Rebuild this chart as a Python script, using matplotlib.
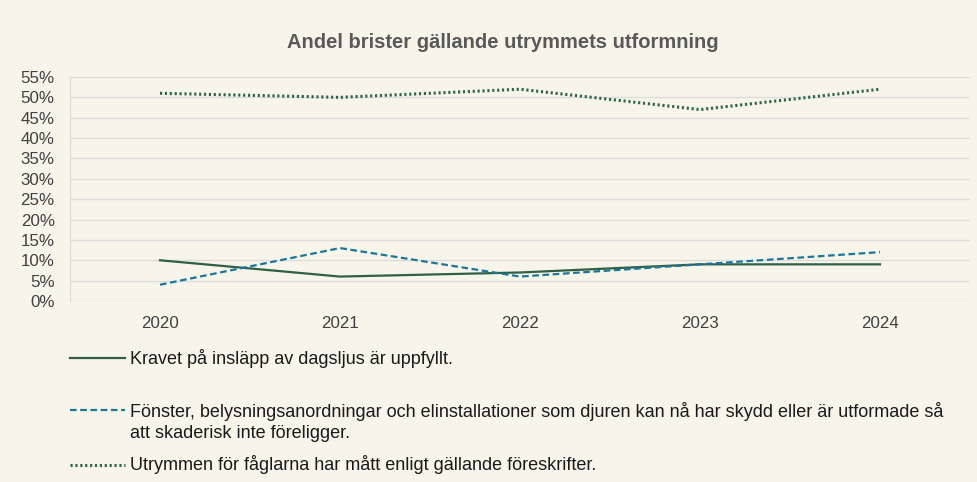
import matplotlib.pyplot as plt
from matplotlib.lines import Line2D
from matplotlib.ticker import PercentFormatter

plt.rcParams['font.family'] = ['Liberation Sans', 'DejaVu Sans']

years = ['2020', '2021', '2022', '2023', '2024']
dagsljus = [10, 6, 7, 9, 9]
skydd = [4, 13, 6, 9, 12]
matt = [51, 50, 52, 47, 52]

labels = [
    'Kravet på insläpp av dagsljus är uppfyllt.',
    'Fönster, belysningsanordningar och elinstallationer som djuren kan nå har skydd eller är utformade så\natt skaderisk inte föreligger.',
    'Utrymmen för fåglarna har mått enligt gällande föreskrifter.',
]

bg = '#f7f5e9'
c_green = '#2f5f46'
c_blue = '#1c7699'
c_dot = '#2c634a'

styles = [
    dict(color=c_green, lw=1.6, ls='-'),
    dict(color=c_blue, lw=1.6, ls=(0, (3, 1.6))),
    dict(color=c_dot, lw=2.2, ls=(0, (0.7, 0.9)), dash_capstyle='butt'),
]

fig = plt.figure(figsize=(9.78, 4.82), dpi=100, facecolor=bg)
ax = fig.add_axes([70 / 978, 1 - 301 / 482, 900 / 978, 224 / 482], facecolor=bg)

x = range(len(years))
for vals, st in zip([dagsljus, skydd, matt], styles):
    ax.plot(x, vals, **st)

ax.set_xlim(-0.5, len(years) - 0.5)
ax.set_ylim(0, 55)
ax.set_yticks(range(0, 56, 5))
ax.yaxis.set_major_formatter(PercentFormatter(decimals=0))
ax.set_xticks(list(x))
ax.set_xticklabels(years)
ax.grid(axis='y', color='#dcdcdc', lw=1)
ax.set_axisbelow(True)
for s in ['top', 'right', 'bottom']:
    ax.spines[s].set_visible(False)
ax.spines['left'].set_color('#d9d9d9')
ax.tick_params(length=0, labelsize=12.2, colors='#404040')
ax.tick_params(axis='y', pad=11)
ax.tick_params(axis='x', pad=11)

fig.text(0.514, 1 - 42 / 482, 'Andel brister gällande utrymmets utformning',
         ha='center', va='center', fontsize=14.5, fontweight='bold', color='#595959')

# legend below the chart
ys = [358, 422, 465]
for lab, st, yy in zip(labels, styles, ys):
    yf = 1 - yy / 482
    hy = 1 - 410 / 482 if '\n' in lab else yf
    fig.add_artist(Line2D([70 / 978, 125 / 978], [hy, hy], transform=fig.transFigure, **st))
    fig.text(130 / 978, yf, lab, ha='left', va='center',
             fontsize=13, color='#1a1a1a', linespacing=1.25)

fig.savefig('out.png', dpi=100, facecolor=bg)
